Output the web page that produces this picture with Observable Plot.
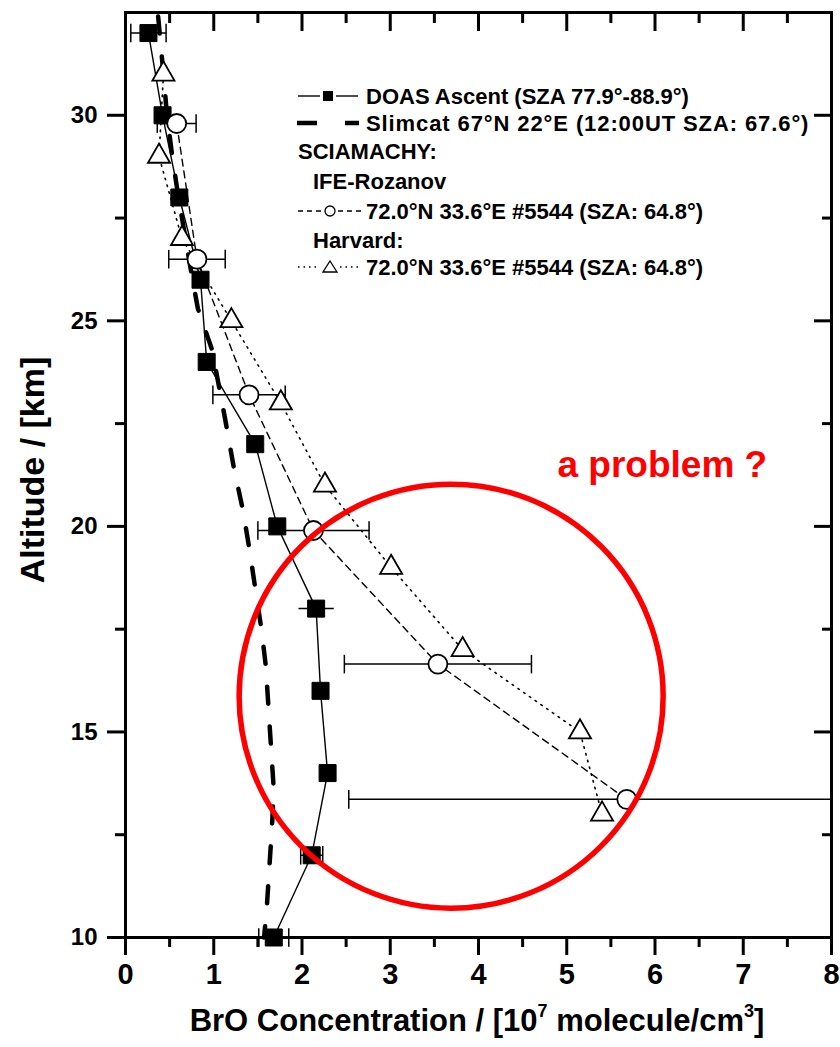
<!DOCTYPE html>
<html><head><meta charset="utf-8">
<script src="https://cdn.jsdelivr.net/npm/d3@7"></script>
<script src="https://cdn.jsdelivr.net/npm/@observablehq/plot@0.6"></script>
<style>
body{margin:0;background:#fff}
#chart{position:relative;width:840px;height:1047px}
</style>
</head><body><div id="chart"></div>
<script>
// DOAS balloon ascent (filled squares)
const doasAlt = [32, 30, 28, 26, 24, 22, 20, 18, 16, 14, 12, 10];
const doasBrO = [0.26, 0.42, 0.61, 0.85, 0.92, 1.47, 1.72, 2.16, 2.21, 2.29, 2.11, 1.68];
const doasErr = [0.20, 0, 0, 0, 0, 0, 0, 0.20, 0, 0, 0.125, 0.17];
const doasCap = [true, false, false, false, false, false, false, false, false, false, true, true];
// Slimcat model (thick dashed)
const slimAlt = [32.4, 31, 30, 29, 28, 27, 26, 25.3, 24.3, 22.6, 21.4, 20.4, 19.5, 18.5, 17.5, 16.6, 15.6, 14.6, 13.6, 12.7, 11.7, 10.7, 10];
const slimBrO = [0.37, 0.43, 0.47, 0.53, 0.60, 0.68, 0.76, 0.82, 0.98, 1.13, 1.23, 1.33, 1.40, 1.47, 1.54, 1.59, 1.62, 1.65, 1.68, 1.66, 1.63, 1.60, 1.57];
// SCIAMACHY IFE-Rozanov (open circles, dashed)
const ifeAlt = [29.8, 26.5, 23.2, 19.9, 16.65, 13.36];
const ifeBrO = [0.58, 0.81, 1.40, 2.13, 3.54, 5.68];
const ifeErr = [0.22, 0.32, 0.41, 0.63, 1.06, 3.15];
// SCIAMACHY Harvard (open triangles, dotted)
const harvAlt = [31, 29, 27, 25, 23, 21, 19, 17, 15, 13];
const harvBrO = [0.43, 0.38, 0.64, 1.20, 1.76, 2.26, 3.01, 3.82, 5.15, 5.40];
// ticks
const xMajor = [0, 1, 2, 3, 4, 5, 6, 7, 8];
const xMinor = [0.5, 1.5, 2.5, 3.5, 4.5, 5.5, 6.5, 7.5];
const yMajor = [10, 15, 20, 25, 30];
const yMinor = [12.5, 17.5, 22.5, 27.5];
// annotation
const problemCircle = [{x: 3.69, y: 15.87}];
const problemText = ["a problem ?"];
const legendRows = [
  {kind: "doas", text: "DOAS Ascent (SZA 77.9°-88.9°)"},
  {kind: "slim", text: "Slimcat 67°N 22°E (12:00UT SZA: 67.6°)"},
  {kind: "head", text: "SCIAMACHY:"},
  {kind: "sub", text: "IFE-Rozanov"},
  {kind: "ife", text: "72.0°N 33.6°E #5544 (SZA: 64.8°)"},
  {kind: "sub", text: "Harvard:"},
  {kind: "harv", text: "72.0°N 33.6°E #5544 (SZA: 64.8°)"}
];

const doas = doasAlt.map((a, i) => ({alt: a, v: doasBrO[i], e: doasErr[i], cap: doasCap[i]}));
const doasE = doas.filter(d => d.e > 0);
const doasC = doasE.filter(d => d.cap);
const slim = slimAlt.map((a, i) => ({alt: a, v: slimBrO[i]}));
const ife = ifeAlt.map((a, i) => ({alt: a, v: ifeBrO[i], e: ifeErr[i]}));
const harv = harvAlt.map((a, i) => ({alt: a, v: harvBrO[i]}));

const vbar = {draw(ctx, size) { const h = Math.sqrt(size); ctx.moveTo(0, -h / 2); ctx.lineTo(0, h / 2); }};

const F = "'Liberation Sans', Arial, Helvetica, sans-serif";

const chart = Plot.plot({
  width: 840, height: 1047,
  marginLeft: 125, marginRight: 9, marginTop: 12, marginBottom: 110,
  x: {domain: [0, 8]},
  y: {domain: [10, 32.5]},
  style: {fontFamily: F, background: "white", color: "black"},
  marks: [
    Plot.axisX({ticks: xMajor, tickSize: 18, strokeWidth: 3, tickPadding: 8, fontSize: 29, fontWeight: "bold", label: null, tickFormat: d => d}),
    Plot.axisX({ticks: xMinor, tickSize: 10, strokeWidth: 3, text: null, label: null}),
    Plot.axisX({anchor: "top", ticks: xMajor, tickSize: 18, dy: 18, strokeWidth: 3, text: null, label: null}),
    Plot.axisX({anchor: "top", ticks: xMinor, tickSize: 10, dy: 10, strokeWidth: 3, text: null, label: null}),
    Plot.axisY({ticks: yMajor, tickSize: 18, strokeWidth: 3, tickPadding: 10, fontSize: 24, fontWeight: "bold", label: null, tickFormat: d => d}),
    Plot.axisY({ticks: yMinor, tickSize: 10, strokeWidth: 3, text: null, label: null}),
    Plot.axisY({anchor: "right", ticks: yMajor, tickSize: 18, dx: -18, strokeWidth: 3, text: null, label: null}),
    Plot.axisY({anchor: "right", ticks: yMinor, tickSize: 10, dx: -10, strokeWidth: 3, text: null, label: null}),
    Plot.frame({stroke: "black", strokeWidth: 3}),
    // lines
    Plot.line(slim, {x: "v", y: "alt", stroke: "black", strokeWidth: 4.5, strokeDasharray: "17,23", strokeLinecap: "round", curve: "linear"}),
    Plot.line(doas, {x: "v", y: "alt", stroke: "black", strokeWidth: 1.4}),
    Plot.line(ife, {x: "v", y: "alt", stroke: "black", strokeWidth: 1.4, strokeDasharray: "7,5"}),
    Plot.line(harv, {x: "v", y: "alt", stroke: "black", strokeWidth: 1.6, strokeDasharray: "1.5,5.5"}),
    // error bars
    Plot.link(doasE, {x1: d => d.v - d.e, x2: d => d.v + d.e, y1: "alt", y2: "alt", stroke: "black", strokeWidth: 1.5}),
    Plot.dot(doasC.flatMap(d => [{x: d.v - d.e, y: d.alt}, {x: d.v + d.e, y: d.alt}]), {x: "x", y: "y", symbol: vbar, r: 10.5, stroke: "black", strokeWidth: 1.5, fill: "none"}),
    Plot.link(ife, {x1: d => d.v - d.e, x2: d => d.v + d.e, y1: "alt", y2: "alt", stroke: "black", strokeWidth: 1.5, clip: true}),
    Plot.dot(ife.flatMap(d => [{x: d.v - d.e, y: d.alt}, {x: d.v + d.e, y: d.alt}]), {x: "x", y: "y", symbol: vbar, r: 10.5, stroke: "black", strokeWidth: 1.5, fill: "none", clip: true}),
    // markers
    Plot.dot(doas, {x: "v", y: "alt", symbol: "square", r: 9.6, fill: "black", stroke: "black", strokeWidth: 1}),
    Plot.dot(ife, {x: "v", y: "alt", symbol: "circle", r: 9.5, fill: "white", stroke: "black", strokeWidth: 1.8}),
    Plot.dot(harv, {x: "v", y: "alt", symbol: "triangle", r: 8.2, fill: "white", stroke: "black", strokeWidth: 1.8}),
    // annotation
    Plot.dot(problemCircle, {x: "x", y: "y", r: 212, fill: "none", stroke: "#ff0000", strokeWidth: 5.5}),
    Plot.text(problemText, {frameAnchor: "top-left", dx: 432, dy: 453, text: d => d, fill: "#ff0000", fontSize: 37, fontWeight: "bold", textAnchor: "start", lineAnchor: "middle"})
  ]
});

const svg = d3.select(chart);
// axis labels
const xl = svg.append("text").attr("x", 477).attr("y", 1031).attr("text-anchor", "middle")
  .attr("font-family", F).attr("font-weight", "bold").attr("font-size", 31).attr("fill", "black");
xl.append("tspan").text("BrO Concentration / [10");
xl.append("tspan").attr("dy", -14).attr("font-size", 18).text("7");
xl.append("tspan").attr("dy", 14).text(" molecule/cm");
xl.append("tspan").attr("dy", -14).attr("font-size", 18).text("3");
xl.append("tspan").attr("dy", 14).text("]");
svg.append("text").attr("transform", "translate(44,470) rotate(-90)").attr("text-anchor", "middle")
  .attr("font-family", F).attr("font-weight", "bold").attr("font-size", 34).attr("fill", "black")
  .text("Altitude / [km]");

// legend
const rowY = [96, 123, 151, 181, 211, 240, 267];
const lg = svg.append("g").attr("font-family", F).attr("font-weight", "bold").attr("font-size", 22).attr("text-anchor", "start");
const seg = (x1, x2, y, w, dash) => {
  const l = lg.append("line").attr("x1", x1).attr("x2", x2).attr("y1", y).attr("y2", y).attr("stroke", "black").attr("stroke-width", w);
  if (dash) l.attr("stroke-dasharray", dash);
};
legendRows.forEach((r, i) => {
  const y = rowY[i];
  let tx = 366;
  if (r.kind === "head") tx = 298;
  if (r.kind === "sub") tx = 313;
  if (r.kind === "doas") {
    seg(298, 320, y, 1.4); seg(336, 358, y, 1.4);
    lg.append("rect").attr("x", 323).attr("y", y - 5).attr("width", 10).attr("height", 10).attr("fill", "black");
  } else if (r.kind === "slim") {
    seg(297, 359, y, 4.5, "20,28");
  } else if (r.kind === "ife") {
    seg(298, 322, y, 1.3, "5,4"); seg(338, 362, y, 1.3, "5,4");
    lg.append("circle").attr("cx", 330).attr("cy", y).attr("r", 5).attr("fill", "white").attr("stroke", "black").attr("stroke-width", 1.3);
  } else if (r.kind === "harv") {
    seg(298, 320, y, 1.4, "1.5,4"); seg(340, 362, y, 1.4, "1.5,4");
    lg.append("path").attr("d", `M${330},${y - 6}L${337},${y + 5}L${323},${y + 5}Z`).attr("fill", "white").attr("stroke", "black").attr("stroke-width", 1.3);
  }
  const t = lg.append("text").attr("x", tx).attr("y", y).attr("dy", "0.36em").attr("text-anchor", "start").attr("fill", "black").text(r.text);
  if (r.kind === "slim") t.attr("letter-spacing", 0.9);
});

document.getElementById("chart").appendChild(chart);
</script>
</body></html>
